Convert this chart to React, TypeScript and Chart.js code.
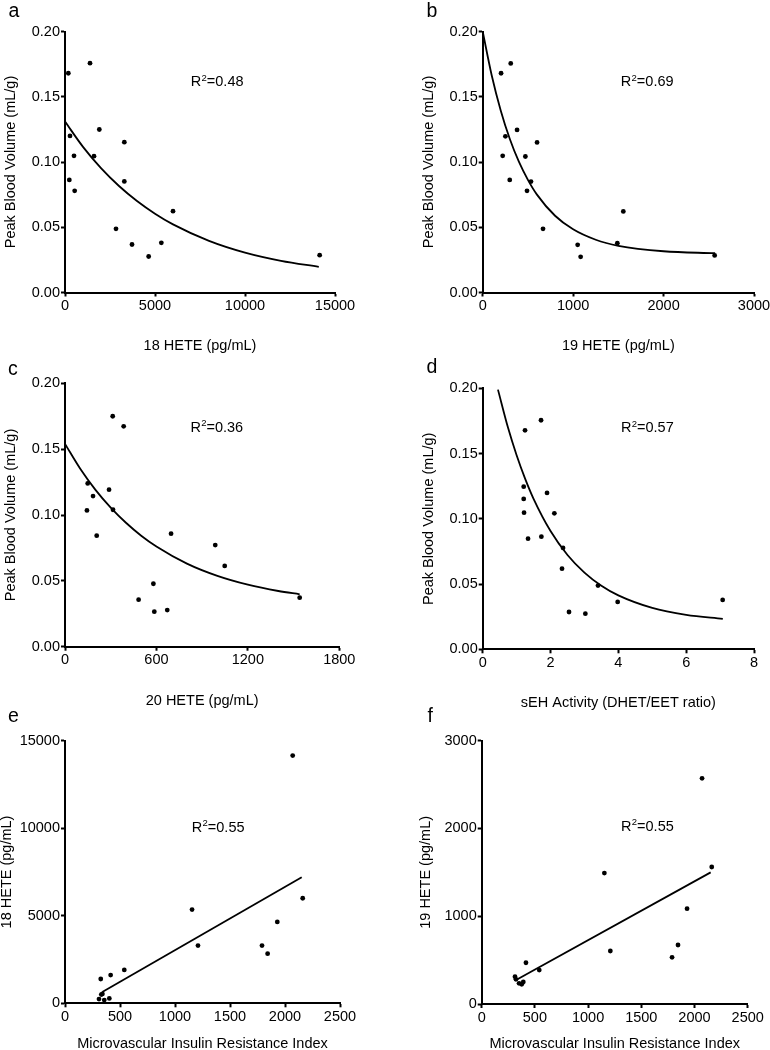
import React, { useEffect, useRef } from "react";
import { Chart, registerables } from "chart.js";
Chart.register(...registerables);

// ---------- Data ----------
// Panel a: 18 HETE vs Peak Blood Volume
const hete18A = [185, 240, 278, 500, 537, 1389, 1611, 1907, 2833, 3296, 3296, 3722, 4648, 5352, 6000, 14148];
const pbvA = [0.168, 0.0863, 0.12, 0.1047, 0.0779, 0.1757, 0.1045, 0.1249, 0.0488, 0.1152, 0.0851, 0.0368, 0.0276, 0.0381, 0.0623, 0.0286];
const fitAx = [0, 1000, 2000, 3000, 4000, 5000, 6000, 8000, 10000, 12000, 14100];
const fitAy = [0.131, 0.1116, 0.0953, 0.0816, 0.0701, 0.0604, 0.0522, 0.0396, 0.0306, 0.0243, 0.0196];

// Panel b: 19 HETE vs Peak Blood Volume
const hete19B = [203, 221, 251, 299, 310, 380, 472, 490, 534, 601, 667, 1050, 1083, 1489, 1555, 2565];
const pbvB = [0.168, 0.1047, 0.1197, 0.0863, 0.1755, 0.1246, 0.1042, 0.0779, 0.085, 0.115, 0.0488, 0.0365, 0.0273, 0.0378, 0.0621, 0.0284];
const fitBx = [0, 100, 200, 300, 400, 500, 600, 800, 1000, 1250, 1500, 2000, 2570];
const fitBy = [0.2, 0.1663, 0.1393, 0.1176, 0.1002, 0.0863, 0.075, 0.0588, 0.0484, 0.0404, 0.0358, 0.0316, 0.0301];

// Panel c: 20 HETE vs Peak Blood Volume
const hete20C = [144, 149, 184, 208, 289, 313, 315, 385, 483, 580, 586, 671, 696, 986, 1048, 1540];
const pbvC = [0.1035, 0.124, 0.1144, 0.0843, 0.1192, 0.175, 0.104, 0.1673, 0.0357, 0.0478, 0.0266, 0.0278, 0.0858, 0.0772, 0.0613, 0.0372];
const fitCx = [0, 100, 200, 300, 400, 500, 600, 800, 1000, 1200, 1400, 1540];
const fitCy = [0.154, 0.1351, 0.1191, 0.1056, 0.0941, 0.0843, 0.0761, 0.0631, 0.0538, 0.0471, 0.0423, 0.0398];

// Panel d: sEH activity vs Peak Blood Volume
const sehD = [1.209, 1.209, 1.219, 1.248, 1.337, 1.72, 1.73, 1.897, 2.113, 2.339, 2.369, 2.545, 3.027, 3.4, 3.98, 7.076];
const pbvD = [0.1246, 0.1152, 0.1047, 0.1678, 0.0848, 0.1755, 0.0863, 0.1198, 0.1042, 0.0618, 0.0777, 0.0286, 0.0273, 0.0488, 0.0363, 0.0378];
const fitDx = [0.45, 0.75, 1.0, 1.25, 1.5, 2.0, 2.5, 3.0, 3.5, 4.0, 5.0, 6.0, 7.08];
const fitDy = [0.199, 0.1695, 0.1487, 0.1308, 0.1153, 0.0906, 0.0723, 0.0588, 0.0487, 0.0413, 0.0317, 0.0264, 0.0233];

// Panel e: MIRI vs 18 HETE
const miriE = [309, 325, 330, 340, 357, 403, 415, 539, 1155, 1209, 1791, 1842, 1930, 2070, 2161];
const hete18E = [240, 1389, 500, 537, 185, 278, 1611, 1907, 5352, 3296, 3296, 2833, 4648, 14148, 6000];
const fitEx = [339, 2152];
const fitEy = [645, 7197];

// Panel f: MIRI vs 19 HETE
const miriF = [313, 322, 351, 376, 391, 416, 541, 1153, 1209, 1789, 1845, 1930, 2071, 2162];
const hete19F = [311, 281, 236, 224, 251, 470, 387, 1492, 604, 532, 672, 1086, 2571, 1561];
const fitFx = [323, 2152];
const fitFy = [273, 1500];

const r2Labels = ["0.48", "0.69", "0.36", "0.57", "0.55", "0.55"];
const panelLetters = ["a", "b", "c", "d", "e", "f"];
const xTitles = [
  "18 HETE (pg/mL)",
  "19 HETE (pg/mL)",
  "20 HETE (pg/mL)",
  "sEH Activity (DHET/EET ratio)",
  "Microvascular Insulin Resistance Index",
  "Microvascular Insulin Resistance Index",
];
const yTitles = [
  "Peak Blood Volume (mL/g)",
  "Peak Blood Volume (mL/g)",
  "Peak Blood Volume (mL/g)",
  "Peak Blood Volume (mL/g)",
  "18 HETE (pg/mL)",
  "19 HETE (pg/mL)",
];

const FONT = "'Liberation Sans', Arial, Helvetica, sans-serif";
const FS = 14.5;

const zip = (xs: number[], ys: number[]) => xs.map((x, i) => ({ x, y: ys[i] }));

type PanelCfg = {
  idx: number;
  left: number;
  top: number;
  w: number;
  h: number;
  area: { l: number; t: number; r: number; b: number };
  yTitleX: number;
  xTitleY: number;
  letterX: number;
  letterY: number;
  xs: number[];
  ys: number[];
  fx: number[];
  fy: number[];
  xMax: number;
  xStep: number;
  yMax: number;
  yStep: number;
  yDec: number;
  r2x: number;
  r2y: number;
};

const panels: PanelCfg[] = [
  { idx: 0, left: 0, top: 0, w: 385, h: 360, area: { l: 65, t: 31.5, r: 335, b: 292.5 }, yTitleX: 11, xTitleY: 346, letterX: 8.5, letterY: 17,
    xs: hete18A, ys: pbvA, fx: fitAx, fy: fitAy, xMax: 15000, xStep: 5000, yMax: 0.2, yStep: 0.05, yDec: 2, r2x: 8444, r2y: 0.162 },
  { idx: 1, left: 385, top: 0, w: 400, h: 360, area: { l: 97.7, t: 31.5, r: 369, b: 292.5 }, yTitleX: 43.5, xTitleY: 346, letterX: 41.5, letterY: 17,
    xs: hete19B, ys: pbvB, fx: fitBx, fy: fitBy, xMax: 3000, xStep: 1000, yMax: 0.2, yStep: 0.05, yDec: 2, r2x: 1817, r2y: 0.162 },
  { idx: 2, left: 0, top: 352, w: 385, h: 360, area: { l: 65, t: 31.3, r: 339.3, b: 294.7 }, yTitleX: 11, xTitleY: 349, letterX: 8, letterY: 22.5,
    xs: hete20C, ys: pbvC, fx: fitCx, fy: fitCy, xMax: 1800, xStep: 600, yMax: 0.2, yStep: 0.05, yDec: 2, r2x: 995, r2y: 0.167 },
  { idx: 3, left: 385, top: 352, w: 400, h: 360, area: { l: 97.7, t: 36.3, r: 369, b: 297.3 }, yTitleX: 43.5, xTitleY: 350.5, letterX: 41.5, letterY: 21,
    xs: sehD, ys: pbvD, fx: fitDx, fy: fitDy, xMax: 8, xStep: 2, yMax: 0.2, yStep: 0.05, yDec: 2, r2x: 4.85, r2y: 0.17 },
  { idx: 4, left: 0, top: 705, w: 385, h: 350, area: { l: 65, t: 35.7, r: 340, b: 298.3 }, yTitleX: 7, xTitleY: 339, letterX: 8, letterY: 16.5,
    xs: miriE, ys: hete18E, fx: fitEx, fy: fitEy, xMax: 2500, xStep: 500, yMax: 15000, yStep: 5000, yDec: 0, r2x: 1391, r2y: 10088 },
  { idx: 5, left: 385, top: 705, w: 400, h: 350, area: { l: 96.7, t: 35.7, r: 362.7, b: 299 }, yTitleX: 40.5, xTitleY: 339, letterX: 42.5, letterY: 17,
    xs: miriF, ys: hete19F, fx: fitFx, fy: fitFy, xMax: 2500, xStep: 500, yMax: 3000, yStep: 1000, yDec: 0, r2x: 1556, r2y: 2031 },
];

const decorPlugin = {
  id: "panelDecor",
  afterDraw(chart: any, _args: any, opts: any) {
    const ctx = chart.ctx as CanvasRenderingContext2D;
    ctx.save();
    ctx.fillStyle = "#000";
    ctx.textAlign = "left";
    ctx.textBaseline = "alphabetic";
    ctx.font = `19.5px ${FONT}`;
    ctx.fillText(opts.letter, opts.letterX, opts.letterY);

    const cx = chart.scales.x.getPixelForValue(opts.rx);
    const cy = chart.scales.y.getPixelForValue(opts.ry);
    ctx.font = `${FS}px ${FONT}`;
    const wR = ctx.measureText("R").width;
    const rest = "=" + opts.r2;
    const wRest = ctx.measureText(rest).width;
    ctx.font = `9.5px ${FONT}`;
    const w2 = ctx.measureText("2").width;
    const total = wR + w2 + wRest;
    const x0 = cx - total / 2;
    const base = cy + 5;
    ctx.font = `${FS}px ${FONT}`;
    ctx.fillText("R", x0, base);
    ctx.font = `9.5px ${FONT}`;
    ctx.fillText("2", x0 + wR + 0.3, base - 5.5);
    ctx.font = `${FS}px ${FONT}`;
    ctx.fillText(rest, x0 + wR + w2 + 0.3, base);
    ctx.restore();
  },
};

function Panel({ cfg }: { cfg: PanelCfg }) {
  const ref = useRef<HTMLCanvasElement | null>(null);
  useEffect(() => {
    if (!ref.current) return;
    const lh = FS * 1.2;
    const padLeft = cfg.yTitleX - lh / 2;
    const xBottom = cfg.xTitleY + lh / 2;
    const yWidth = cfg.area.l - padLeft;
    const xHeight = xBottom - cfg.area.b;
    const tickFont = { family: FONT, size: FS };
    const grid = {
      display: true,
      drawOnChartArea: false,
      drawTicks: true,
      tickLength: 4,
      tickWidth: 2,
      tickColor: "#000",
      color: "#000",
    };
    const border = { display: true, color: "#000", width: 2 };
    const chart = new Chart(ref.current, {
      type: "scatter",
      data: {
        datasets: [
          {
            data: zip(cfg.xs, cfg.ys),
            pointRadius: 2.4,
            pointBackgroundColor: "#000",
            pointBorderColor: "#000",
            pointBorderWidth: 0,
            showLine: false,
          },
          {
            data: zip(cfg.fx, cfg.fy),
            showLine: true,
            pointRadius: 0,
            borderColor: "#000",
            borderWidth: 1.8,
            cubicInterpolationMode: "monotone",
            fill: false,
          },
        ],
      } as any,
      options: {
        animation: false,
        responsive: false,
        maintainAspectRatio: false,
        devicePixelRatio: 1,
        layout: {
          padding: {
            left: padLeft,
            top: cfg.area.t,
            right: cfg.w - cfg.area.r,
            bottom: cfg.h - xBottom,
          },
        },
        plugins: {
          legend: { display: false },
          tooltip: { enabled: false },
          panelDecor: {
            letter: panelLetters[cfg.idx],
            letterX: cfg.letterX,
            letterY: cfg.letterY,
            rx: cfg.r2x,
            ry: cfg.r2y,
            r2: r2Labels[cfg.idx],
          },
        } as any,
        scales: {
          x: {
            type: "linear",
            position: "bottom",
            min: 0,
            max: cfg.xMax,
            ticks: {
              stepSize: cfg.xStep,
              color: "#000",
              font: tickFont,
              padding: 1,
              maxRotation: 0,
              autoSkip: false,
              callback: (v: any) => String(Math.round(Number(v) * 1000) / 1000),
            },
            grid,
            border,
            title: {
              display: true,
              text: xTitles[cfg.idx],
              color: "#000",
              font: { family: FONT, size: FS },
              padding: { top: 0, bottom: 0 },
            },
            afterFit: (s: any) => {
              s.height = xHeight;
            },
          },
          y: {
            type: "linear",
            position: "left",
            min: 0,
            max: cfg.yMax,
            ticks: {
              stepSize: cfg.yStep,
              color: "#000",
              font: tickFont,
              padding: 1,
              autoSkip: false,
              callback: (v: any) => Number(v).toFixed(cfg.yDec),
            },
            grid,
            border,
            title: {
              display: true,
              text: yTitles[cfg.idx],
              color: "#000",
              font: { family: FONT, size: FS },
              padding: { top: 0, bottom: 0 },
            },
            afterFit: (s: any) => {
              s.width = yWidth;
            },
          },
        },
      } as any,
      plugins: [decorPlugin as any],
    });
    return () => chart.destroy();
  }, [cfg]);
  return (
    <canvas
      ref={ref}
      width={cfg.w}
      height={cfg.h}
      style={{ position: "absolute", left: cfg.left, top: cfg.top, width: cfg.w, height: cfg.h, display: "block" }}
    />
  );
}

export default function App() {
  return (
    <div
      style={{
        position: "absolute",
        left: 0,
        top: 0,
        width: 770,
        height: 1050,
        overflow: "hidden",
        background: "#fff",
      }}
    >
      {panels.map((p) => (
        <Panel key={p.idx} cfg={p} />
      ))}
    </div>
  );
}
